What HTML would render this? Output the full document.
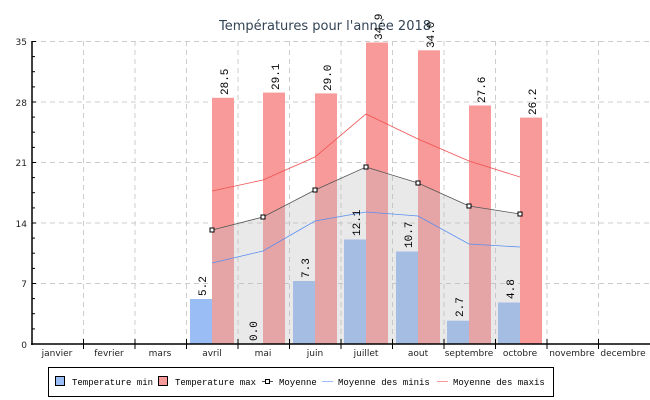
<!DOCTYPE html><html><head><meta charset="utf-8"><style>body{margin:0;background:#fff}svg{display:block;font-family:"DejaVu Sans","Liberation Sans",sans-serif}</style></head><body>
<svg width="650" height="400" viewBox="0 0 650 400">
<text x="325" y="30" text-anchor="middle" font-size="13" fill="#334455">Températures pour l'année 2018</text>
<g stroke="#ccc" stroke-dasharray="5,4" stroke-width="1">
<line x1="32" y1="41.5" x2="650" y2="41.5"/><line x1="32" y1="102" x2="650" y2="102"/><line x1="32" y1="162.5" x2="650" y2="162.5"/><line x1="32" y1="223" x2="650" y2="223"/><line x1="32" y1="283.5" x2="650" y2="283.5"/>
<line x1="83.5" y1="41" x2="83.5" y2="344"/><line x1="135" y1="41" x2="135" y2="344"/><line x1="186.5" y1="41" x2="186.5" y2="344"/><line x1="238" y1="41" x2="238" y2="344"/><line x1="289.5" y1="41" x2="289.5" y2="344"/><line x1="341" y1="41" x2="341" y2="344"/><line x1="392.5" y1="41" x2="392.5" y2="344"/><line x1="444" y1="41" x2="444" y2="344"/><line x1="495.5" y1="41" x2="495.5" y2="344"/><line x1="547" y1="41" x2="547" y2="344"/><line x1="598.5" y1="41" x2="598.5" y2="344"/>
</g>
<g fill="#9bbdf5">
<rect x="190" y="299" width="22" height="45"/><rect x="293" y="281" width="22" height="63"/><rect x="344" y="239.5" width="22" height="104.5"/><rect x="396" y="251.5" width="22" height="92.5"/><rect x="447" y="320.7" width="22" height="23.3"/><rect x="498" y="302.5" width="22" height="41.5"/>
</g>
<g fill="#f99a9a">
<rect x="212" y="97.8" width="22" height="246.2"/><rect x="263" y="92.6" width="22" height="251.4"/><rect x="315" y="93.4" width="22" height="250.6"/><rect x="366" y="42.5" width="22" height="301.5"/><rect x="418" y="50.3" width="22" height="293.7"/><rect x="469" y="105.5" width="22" height="238.5"/><rect x="520" y="117.6" width="22" height="226.4"/>
</g>
<polygon points="212,344 212,230 263,217 315,190 366,167 418,183 469,206 520,214 520,344" fill="#babcbe" fill-opacity="0.32"/>
<polyline points="212,191 263,180 315,157 366,114 418,139 469,161 520,177" fill="none" stroke="#f05050" stroke-width="0.8"/>
<polyline points="212,263 263,251 315,221 366,212 418,216 469,244 520,247" fill="none" stroke="#5a8ef0" stroke-width="0.8"/>
<polyline points="212,230 263,217 315,190 366,167 418,183 469,206 520,214" fill="none" stroke="#555" stroke-width="0.8"/>
<g fill="#fff" stroke="#000" stroke-width="1">
<rect x="210" y="228" width="4" height="4"/><rect x="261" y="215" width="4" height="4"/><rect x="313" y="188" width="4" height="4"/><rect x="364" y="165" width="4" height="4"/><rect x="416" y="181" width="4" height="4"/><rect x="467" y="204" width="4" height="4"/><rect x="518" y="212" width="4" height="4"/>
</g>
<g font-size="11" fill="#000" font-family="Liberation Mono,monospace">
<text transform="translate(206,296) rotate(-90)">5.2</text>
<text transform="translate(257,341) rotate(-90)">0.0</text>
<text transform="translate(309,278) rotate(-90)">7.3</text>
<text transform="translate(360,236) rotate(-90)">12.1</text>
<text transform="translate(412,248) rotate(-90)">10.7</text>
<text transform="translate(463,317) rotate(-90)">2.7</text>
<text transform="translate(514,299) rotate(-90)">4.8</text>
<text transform="translate(228,95) rotate(-90)">28.5</text>
<text transform="translate(279,90) rotate(-90)">29.1</text>
<text transform="translate(331,91) rotate(-90)">29.0</text>
<text transform="translate(382,40) rotate(-90)">34.9</text>
<text transform="translate(434,48) rotate(-90)">34.0</text>
<text transform="translate(485,103) rotate(-90)">27.6</text>
<text transform="translate(536,115) rotate(-90)">26.2</text>
</g>
<g stroke="#000" stroke-width="1.5"><line x1="32" y1="41" x2="32" y2="345"/><line x1="31" y1="344" x2="650" y2="344"/></g>
<g stroke="#000" stroke-width="1">
<line x1="32" y1="41.5" x2="36" y2="41.5"/><line x1="32" y1="56.6" x2="35" y2="56.6"/><line x1="32" y1="71.7" x2="35" y2="71.7"/><line x1="32" y1="86.9" x2="35" y2="86.9"/><line x1="32" y1="102" x2="36" y2="102"/><line x1="32" y1="117.1" x2="35" y2="117.1"/><line x1="32" y1="132.2" x2="35" y2="132.2"/><line x1="32" y1="147.4" x2="35" y2="147.4"/><line x1="32" y1="162.5" x2="36" y2="162.5"/><line x1="32" y1="177.6" x2="35" y2="177.6"/><line x1="32" y1="192.7" x2="35" y2="192.7"/><line x1="32" y1="207.9" x2="35" y2="207.9"/><line x1="32" y1="223" x2="36" y2="223"/><line x1="32" y1="238.1" x2="35" y2="238.1"/><line x1="32" y1="253.2" x2="35" y2="253.2"/><line x1="32" y1="268.4" x2="35" y2="268.4"/><line x1="32" y1="283.5" x2="36" y2="283.5"/><line x1="32" y1="298.6" x2="35" y2="298.6"/><line x1="32" y1="313.7" x2="35" y2="313.7"/><line x1="32" y1="328.9" x2="35" y2="328.9"/>
<line x1="83.5" y1="339" x2="83.5" y2="349"/><line x1="135" y1="339" x2="135" y2="349"/><line x1="186.5" y1="339" x2="186.5" y2="349"/><line x1="238" y1="339" x2="238" y2="349"/><line x1="289.5" y1="339" x2="289.5" y2="349"/><line x1="341" y1="339" x2="341" y2="349"/><line x1="392.5" y1="339" x2="392.5" y2="349"/><line x1="444" y1="339" x2="444" y2="349"/><line x1="495.5" y1="339" x2="495.5" y2="349"/><line x1="547" y1="339" x2="547" y2="349"/><line x1="598.5" y1="339" x2="598.5" y2="349"/>
</g>
<g font-size="9" fill="#222" text-anchor="end">
<text x="27" y="45">35</text><text x="27" y="106">28</text><text x="27" y="166">21</text><text x="27" y="227">14</text><text x="27" y="287">7</text><text x="27" y="348">0</text>
</g>
<g font-size="9" fill="#222" text-anchor="middle">
<text x="57" y="356">janvier</text><text x="109" y="356">fevrier</text><text x="160" y="356">mars</text><text x="212" y="356">avril</text><text x="263" y="356">mai</text><text x="315" y="356">juin</text><text x="366" y="356">juillet</text><text x="418" y="356">aout</text><text x="469" y="356">septembre</text><text x="520" y="356">octobre</text><text x="572" y="356">novembre</text><text x="623" y="356">decembre</text>
</g>
<rect x="48.5" y="367.5" width="505" height="29" fill="#fff" stroke="#000"/>
<g font-size="9" font-family="Liberation Mono,monospace" fill="#000">
<rect x="55.5" y="376.5" width="9" height="9" fill="#9bbdf5" stroke="#000"/>
<text x="72" y="385">Temperature min</text>
<rect x="158.5" y="376.5" width="9" height="9" fill="#f99a9a" stroke="#000"/>
<text x="175" y="385">Temperature max</text>
<line x1="262" y1="381.5" x2="273" y2="381.5" stroke="#555"/><rect x="265.5" y="379.5" width="4" height="4" fill="#fff" stroke="#000"/>
<text x="279" y="385">Moyenne</text>
<line x1="322" y1="381.5" x2="333" y2="381.5" stroke="#9bbdf5"/>
<text x="338" y="385">Moyenne des minis</text>
<line x1="437" y1="381.5" x2="448" y2="381.5" stroke="#f99a9a"/>
<text x="453" y="385">Moyenne des maxis</text>
</g>
</svg></body></html>
